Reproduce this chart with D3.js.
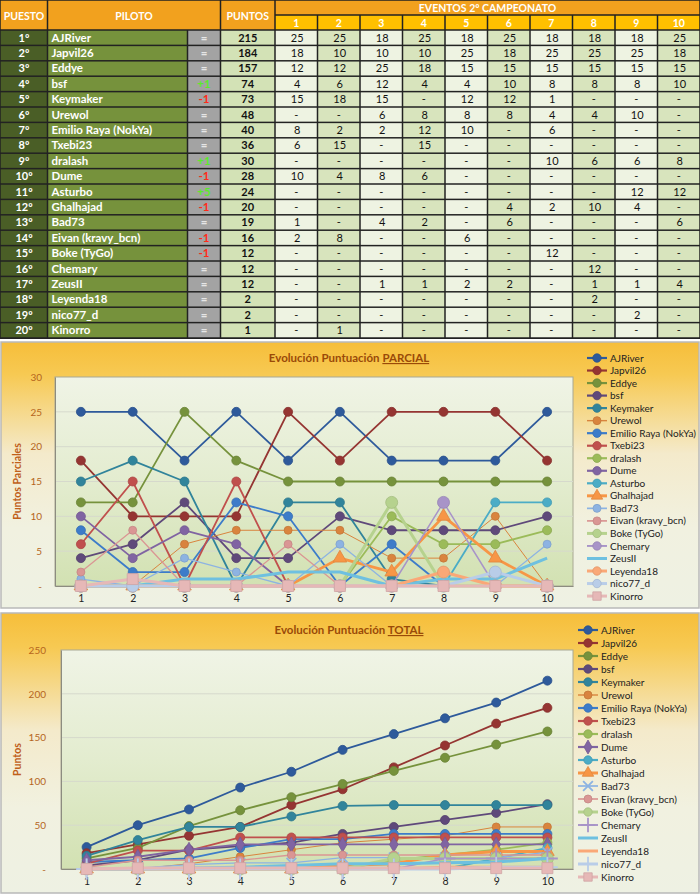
<!DOCTYPE html>
<html><head><meta charset="utf-8">
<script src="https://cdn.jsdelivr.net/npm/d3@7"></script>
<style>body{margin:0;background:#fff;} svg{display:block;font-family:Lato,"Open Sans",sans-serif;}</style>
</head><body><svg id="c" width="700" height="895"></svg>
<script>
// ---------------- DATA ----------------
const events = [1,2,3,4,5,6,7,8,9,10];
const pilots = ["AJRiver","Japvil26","Eddye","bsf","Keymaker","Urewol","Emilio Raya (NokYa)","Txebi23","dralash","Dume","Asturbo","Ghalhajad","Bad73","Eivan (kravy_bcn)","Boke (TyGo)","Chemary","ZeusII","Leyenda18","nico77_d","Kinorro"];
const positions = ["1º","2º","3º","4º","5º","6º","7º","8º","9º","10º","11º","12º","13º","14º","15º","16º","17º","18º","19º","20º"];
const changes = ["=","=","=","+1","-1","=","=","=","+1","-1","+5","-1","=","-1","-1","=","=","=","=","="];
const points = [215,184,157,74,73,48,40,36,30,28,24,20,19,16,12,12,12,2,2,1];
const results = [
 [25,25,18,25,18,25,18,18,18,25],
 [18,10,10,10,25,18,25,25,25,18],
 [12,12,25,18,15,15,15,15,15,15],
 [4,6,12,4,4,10,8,8,8,10],
 [15,18,15,null,12,12,1,null,null,null],
 [null,null,6,8,8,8,4,4,10,null],
 [8,2,2,12,10,null,6,null,null,null],
 [6,15,null,15,null,null,null,null,null,null],
 [null,null,null,null,null,null,10,6,6,8],
 [10,4,8,6,null,null,null,null,null,null],
 [null,null,null,null,null,null,null,null,12,12],
 [null,null,null,null,null,4,2,10,4,null],
 [1,null,4,2,null,6,null,null,null,6],
 [2,8,null,null,6,null,null,null,null,null],
 [null,null,null,null,null,null,12,null,null,null],
 [null,null,null,null,null,null,null,12,null,null],
 [null,null,1,1,2,2,null,1,1,4],
 [null,null,null,null,null,null,null,2,null,null],
 [null,null,null,null,null,null,null,null,2,null],
 [null,1,null,null,null,null,null,null,null,null]
];
const partialTicks = [0,5,10,15,20,25,30];
const totalTicks = [0,50,100,150,200,250];

// ---------------- STYLES ----------------
const seriesStyle = [
 {c:"#2E5A9B",w:1.8,m:"circle",r:4.5,mt:"circle"},
 {c:"#953532",w:1.8,m:"circle",r:4.5,mt:"circle"},
 {c:"#76923C",w:1.8,m:"circle",r:4.5,mt:"circle"},
 {c:"#5F497A",w:1.8,m:"circle",r:4.5,mt:"circle"},
 {c:"#31849B",w:1.8,m:"circle",r:4.5,mt:"circle"},
 {c:"#D9843E",w:1,m:"circle",r:4,mt:"circle"},
 {c:"#3D7CC9",w:1.8,m:"circle",r:4.5,mt:"circle"},
 {c:"#C0504D",w:1.8,m:"circle",r:4.5,mt:"circle"},
 {c:"#9BBB59",w:1.8,m:"circle",r:4.5,mt:"circle"},
 {c:"#8064A2",w:1.8,m:"circle",r:4.5,mt:"diamond"},
 {c:"#4BACC6",w:1.8,m:"circle",r:4.5,mt:"circle"},
 {c:"#F79646",w:2.8,m:"triangle",r:5,mt:"triangle"},
 {c:"#8DB3E2",w:1.3,m:"circle",r:4,mt:"times"},
 {c:"#DA9694",w:1.3,m:"circle",r:4,mt:"circle"},
 {c:"#B6D28E",w:3,m:"circle",r:6,mt:"circle"},
 {c:"#A894C8",w:1.5,m:"circle",r:6,mt:"plus"},
 {c:"#6EC0E0",w:3,m:"none",r:0,mt:"none"},
 {c:"#FAA877",w:3,m:"circle",r:6,mt:"none"},
 {c:"#B9CDE8",w:3,m:"circle",r:6,mt:"plus"},
 {c:"#E6B8B7",w:3,m:"square",r:5.5,mt:"square"}
];

const svg = d3.select("#c");
const defs = svg.append("defs");
const pg = defs.append("linearGradient").attr("id","panelGrad").attr("x1",0).attr("y1",0).attr("x2",0).attr("y2",1);
[[0,"#F6BE3A"],[0.12,"#F7C952"],[0.42,"#F4EACB"],[0.7,"#F1F1E0"],[1,"#EEF1E3"]].forEach(s=>pg.append("stop").attr("offset",s[0]).attr("stop-color",s[1]));
const ag = defs.append("linearGradient").attr("id","plotGrad").attr("x1",0).attr("y1",0).attr("x2",0).attr("y2",1);
[[0,"#F0F4E6"],[0.5,"#E3ECCF"],[1,"#D2E1B2"]].forEach(s=>ag.append("stop").attr("offset",s[0]).attr("stop-color",s[1]));

// ---------------- TABLE ----------------
const T = {top:0, hdr:30, rowH:15.4, colPos:[0,47.5], colName:[47.5,187.5], colChg:[187.5,220.5], colPts:[220.5,275], evL:275, evR:700};
const tbl = svg.append("g");
tbl.append("rect").attr("x",0).attr("y",0).attr("width",700).attr("height",T.hdr+20*T.rowH+1).attr("fill","#222");
function cell(x0,x1,y0,y1,fill){
  tbl.append("rect").attr("x",x0+0.75).attr("y",y0+0.75).attr("width",x1-x0-1.5).attr("height",y1-y0-1.5).attr("fill",fill);
}
function txt(x,y,s,opt){
  tbl.append("text").attr("x",x).attr("y",y).text(s)
    .attr("text-anchor",opt.a||"middle").attr("font-size",opt.fs||11).attr("font-weight",opt.fw||"bold").attr("fill",opt.f||"#fff");
}
// header
cell(T.colPos[0],T.colPos[1],0,T.hdr,"#F2A11E");
cell(T.colName[0],T.colChg[1],0,T.hdr,"#F2A11E");
cell(T.colPts[0],T.colPts[1],0,T.hdr,"#F2A11E");
cell(T.evL,T.evR,0,15,"#F2A11E");
txt(24,19.5,"PUESTO",{fs:10.5});
txt((T.colName[0]+T.colChg[1])/2,19.5,"PILOTO",{fs:10.5});
txt((T.colPts[0]+T.colPts[1])/2,19.5,"PUNTOS",{fs:10.5});
txt((T.evL+T.evR)/2,11.5,"EVENTOS 2º CAMPEONATO",{fs:10.5});
const ex = d3.scaleBand().domain(events).range([T.evL,T.evR]);
events.forEach(e=>{
  cell(ex(e),ex(e)+ex.bandwidth(),15,T.hdr,"#FFC000");
  txt(ex(e)+ex.bandwidth()/2,27,String(e),{fs:10.5});
});
const ry = d3.scaleBand().domain(d3.range(20)).range([T.hdr,T.hdr+20*T.rowH]);
pilots.forEach((p,i)=>{
  const y0 = ry(i), y1 = y0+ry.bandwidth(), yb = y0+11.6;
  cell(T.colPos[0],T.colPos[1],y0,y1,"#4A5E26");
  cell(T.colName[0],T.colName[1],y0,y1,"#76923C");
  cell(T.colChg[0],T.colChg[1],y0,y1,"#A3A3A3");
  cell(T.colPts[0],T.colPts[1],y0,y1,"#D3E2B6");
  txt(24,yb,positions[i],{fs:11});
  txt(T.colName[0]+4,yb,p,{a:"start",fs:11.5});
  const ch = changes[i];
  txt((T.colChg[0]+T.colChg[1])/2,yb,ch,{fs:11.5,f: ch==="="?"#E6E6E6":(ch[0]==="+"?"#5BEA2C":"#FF2A1A")});
  txt((T.colPts[0]+T.colPts[1])/2,yb,points[i],{fs:11,f:"#111"});
  events.forEach((e,j)=>{
    cell(ex(e),ex(e)+ex.bandwidth(),y0,y1, j%2===0?"#EEF3E2":"#D8E4BD");
    const v = results[i][j];
    txt(ex(e)+ex.bandwidth()/2+(v==null?0:1),yb,v==null?"-":v,{fs:11,fw:"normal",f:"#111"});
  });
});

// ---------------- CHARTS ----------------
function marker(g,type,cx,cy,r,c){
  if(type==="none") return;
  if(type==="circle"){ g.append("circle").attr("cx",cx).attr("cy",cy).attr("r",r).attr("fill",c).attr("stroke",d3.color(c).darker(0.3)).attr("stroke-width",0.8); return; }
  const map = {triangle:d3.symbolTriangle,square:d3.symbolSquare,diamond:d3.symbolDiamond,plus:d3.symbolPlus,times:d3.symbolTimes};
  const stroked = (type==="plus"||type==="times");
  const size = type==="square" ? (2*r)*(2*r) : (stroked? r*r*4 : r*r*3.2);
  const p = g.append("path").attr("d",d3.symbol().type(map[type]).size(size)()).attr("transform",`translate(${cx},${cy})`);
  if(stroked) p.attr("fill","none").attr("stroke",c).attr("stroke-width",1.8);
  else p.attr("fill",c).attr("stroke",d3.color(c).darker(0.3)).attr("stroke-width",0.8);
}

function chart(cfg){
  const g = svg.append("g");
  g.append("rect").attr("x",cfg.px).attr("y",cfg.py).attr("width",cfg.pw).attr("height",cfg.ph)
    .attr("fill","url(#panelGrad)").attr("stroke","#B9B9B9").attr("stroke-width",1.5);
  const x = d3.scalePoint().domain(events).range([cfg.l,cfg.r]).padding(0.5);
  const y = d3.scaleLinear().domain([0,cfg.max]).range([cfg.b,cfg.t]);
  g.append("rect").attr("x",cfg.l).attr("y",cfg.t).attr("width",cfg.r-cfg.l).attr("height",cfg.b-cfg.t)
    .attr("fill","url(#plotGrad)").attr("stroke","#A8A893").attr("stroke-width",1);
  // grid
  g.selectAll(null).data(cfg.ticks.slice(1,-1)).join("line")
    .attr("x1",cfg.l).attr("x2",cfg.r).attr("y1",d=>y(d)).attr("y2",d=>y(d))
    .attr("stroke","#D6D9CC").attr("stroke-width",1);
  // axes
  const ya = g.append("g").attr("transform",`translate(${cfg.l},0)`)
    .call(d3.axisLeft(y).tickValues(cfg.ticks).tickFormat(d=>d===0?"-":d).tickSize(0).tickPadding(cfg.ytp));
  ya.select(".domain").attr("stroke","#8C8C80");
  ya.selectAll("text").attr("fill","#B5651D").attr("font-size",10).attr("font-family","Lato,sans-serif");
  const xa = g.append("g").attr("transform",`translate(0,${cfg.b})`)
    .call(d3.axisBottom(x).tickSize(0).tickPadding(9));
  xa.select(".domain").attr("stroke","#8C8C80");
  xa.selectAll("text").attr("fill","#222").attr("font-size",10.5).attr("font-family","Lato,sans-serif");
  // titles
  const tt = g.append("text").attr("x",349).attr("y",cfg.titleY).attr("text-anchor","middle")
    .attr("font-size",11.5).attr("font-weight","bold").attr("fill","#9A4A08");
  tt.append("tspan").text("Evolución Puntuación ");
  tt.append("tspan").text(cfg.titleU).attr("text-decoration","underline");
  g.append("text").attr("transform",`translate(${cfg.ylx},${(cfg.t+cfg.b)/2}) rotate(-90)`)
    .attr("text-anchor","middle").attr("font-size",10.5).attr("font-weight","bold").attr("fill","#C0601A").text(cfg.yLabel);
  // series
  const line = d3.line().x((d,j)=>x(events[j])).y(d=>y(d));
  const sg = g.append("g");
  cfg.series.forEach((vals,i)=>{
    const s = seriesStyle[i];
    sg.append("path").attr("d",line(vals)).attr("fill","none").attr("stroke",s.c).attr("stroke-width",s.w).attr("stroke-linejoin","round");
    const mt = cfg.total ? s.mt : s.m;
    vals.forEach((v,j)=>marker(sg,mt,x(events[j]),y(v),s.r,s.c));
  });
  // legend
  const lg = g.append("g");
  pilots.forEach((p,i)=>{
    const s = seriesStyle[i], yy = cfg.legY + i*cfg.legStep;
    lg.append("line").attr("x1",cfg.legX).attr("x2",cfg.legX+20).attr("y1",yy).attr("y2",yy).attr("stroke",s.c).attr("stroke-width",Math.min(s.w+0.4,3));
    const mt = cfg.total ? s.mt : s.m;
    marker(lg,mt,cfg.legX+10,yy,Math.min(s.r,4.2),s.c);
    lg.append("text").attr("x",cfg.legX+23).attr("y",yy+3.6).attr("font-size",10).attr("fill","#222").text(p);
  });
}

chart({px:1,py:342,pw:698,ph:266,l:55,r:573,t:377,b:586,max:30,ticks:partialTicks,ytp:13,
  titleY:362,titleU:"PARCIAL",ylx:21,yLabel:"Puntos Parciales",
  series:results.map(r=>r.map(v=>v??0)),total:false,legX:587,legY:358,legStep:12.53});
chart({px:1,py:613,pw:698,ph:280,l:61,r:573,t:650,b:869,max:250,ticks:totalTicks,ytp:15,
  titleY:634,titleU:"TOTAL",ylx:21,yLabel:"Puntos",
  series:results.map(r=>d3.cumsum(r.map(v=>v??0))),total:true,legX:578,legY:630,legStep:13});
</script></body></html>
